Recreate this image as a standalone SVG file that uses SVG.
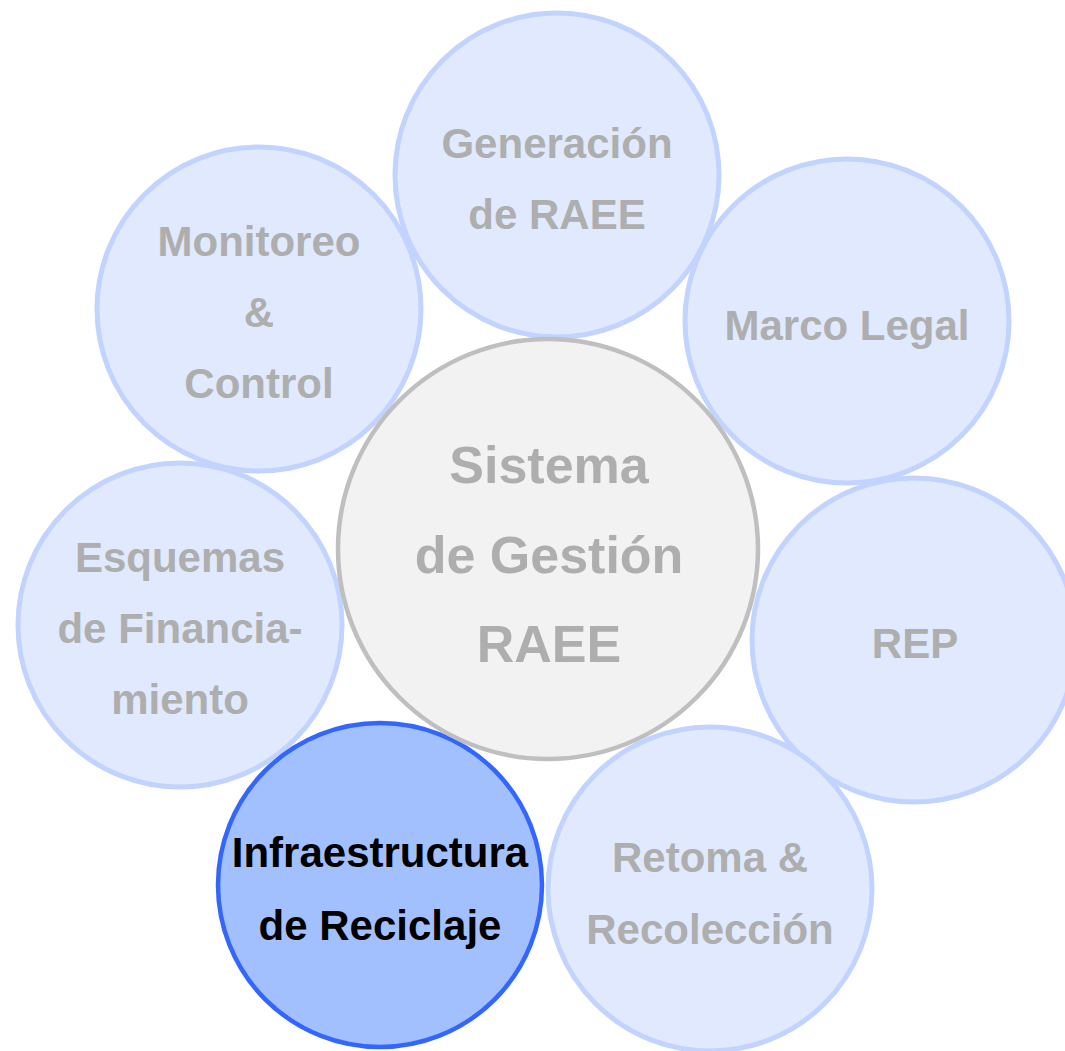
<svg xmlns="http://www.w3.org/2000/svg" width="1065" height="1051" viewBox="0 0 1065 1051">
<style>
  .sat circle { fill: #e0e9fe; stroke: #c2d3ff; stroke-width: 5; }
  .sat text { fill: #aeaeae; }
  text { font-family: "Liberation Sans", Arial, sans-serif; font-weight: bold; font-size: 42px; text-anchor: middle; }
  #hub circle { fill: #f2f2f2; stroke: #bfbfbf; stroke-width: 4.5; }
  #hub text { fill: #aeaeae; font-size: 52px; }
  #infraestructura circle { fill: #a3c0fe; stroke: #3366ff; stroke-width: 4.5; }
  #infraestructura text { fill: #000000; }
</style>
<rect width="1065" height="1051" fill="#ffffff"/>
<g id="connectors"/>
<g id="generacion" class="sat">
  <circle cx="557" cy="175" r="162"/>
  <text x="557" y="158">Generación</text>
  <text x="557" y="229">de RAEE</text>
</g>
<g id="marco-legal" class="sat">
  <circle cx="847" cy="321" r="162"/>
  <text x="847" y="340">Marco Legal</text>
</g>
<g id="rep" class="sat">
  <circle cx="914" cy="640" r="162"/>
  <text x="915" y="658">REP</text>
</g>
<g id="retoma" class="sat">
  <circle cx="710" cy="889" r="162"/>
  <text x="710" y="872">Retoma &amp;</text>
  <text x="710" y="944">Recolección</text>
</g>
<g id="esquemas" class="sat">
  <circle cx="180" cy="625" r="162"/>
  <text x="180" y="572">Esquemas</text>
  <text x="180" y="643">de Financia-</text>
  <text x="180" y="714">miento</text>
</g>
<g id="monitoreo" class="sat">
  <circle cx="259" cy="309" r="162"/>
  <text x="259" y="256">Monitoreo</text>
  <text x="259" y="327">&amp;</text>
  <text x="259" y="398">Control</text>
</g>
<g id="infraestructura">
  <circle cx="380" cy="885" r="162"/>
  <text x="380" y="867">Infraestructura</text>
  <text x="380" y="940">de Reciclaje</text>
</g>
<g id="hub">
  <circle cx="548" cy="549" r="210"/>
  <text x="549" y="483">Sistema</text>
  <text x="549" y="573">de Gestión</text>
  <text x="549" y="662">RAEE</text>
</g>
</svg>
